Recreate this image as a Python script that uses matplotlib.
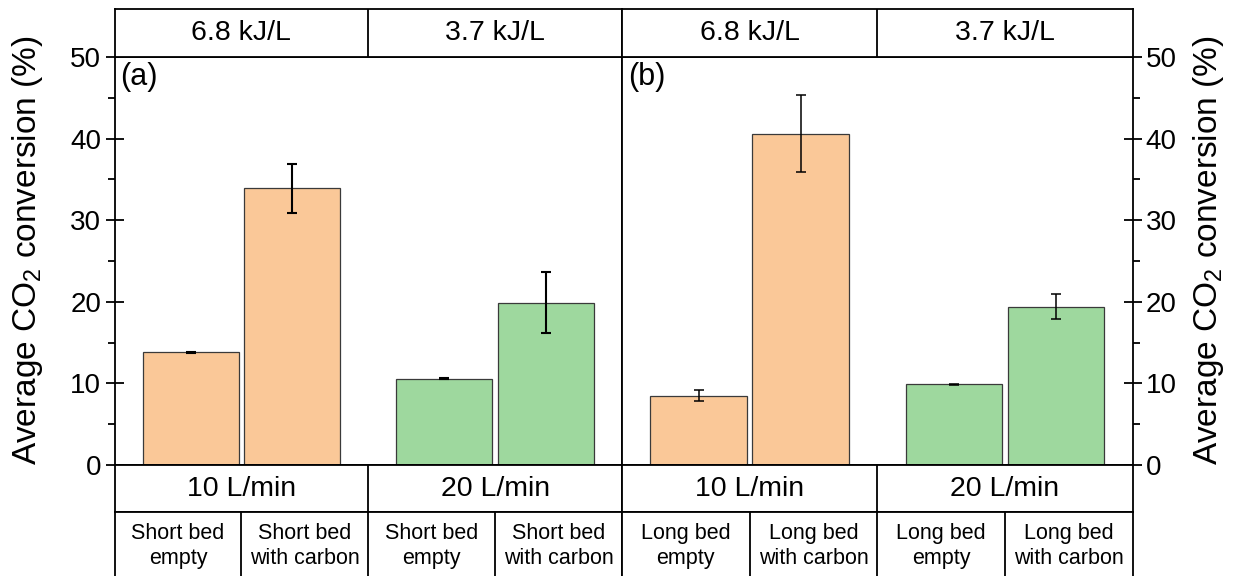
import numpy as np
import matplotlib
matplotlib.use("Agg")
import matplotlib.pyplot as plt

plt.rcParams['font.family'] = ['Liberation Sans', 'DejaVu Sans']
plt.rcParams['mathtext.fontset'] = 'custom'
plt.rcParams['mathtext.rm'] = 'Liberation Sans'
plt.rcParams['mathtext.it'] = 'Liberation Sans:italic'

# data
energy_labels = ["6.8 kJ/L", "3.7 kJ/L"]
flow_labels = ["10 L/min", "20 L/min"]
beds_a = ["Short bed\nempty", "Short bed\nwith carbon", "Short bed\nempty", "Short bed\nwith carbon"]
beds_b = ["Long bed\nempty", "Long bed\nwith carbon", "Long bed\nempty", "Long bed\nwith carbon"]
conv_a = [13.8, 33.9, 10.6, 19.9]
err_a = [0.1, 3.0, 0.1, 3.7]
conv_b = [8.5, 40.6, 9.9, 19.4]
err_b = [0.7, 4.7, 0.05, 1.5]

ORANGE = '#FAC898'
GREEN = '#9ED89E'
bar_colors = [ORANGE, ORANGE, GREEN, GREEN]
LW = 1.3

W, H = 1237, 576
fig = plt.figure(figsize=(W / 100, H / 100), dpi=100)


def px_axes(x0, y0, x1, y1):
    # pixel box (top-left origin) -> figure axes
    return fig.add_axes([x0 / W, 1 - y1 / H, (x1 - x0) / W, (y1 - y0) / H])


def box_axes(x0, y0, x1, y1, dividers, texts, xs, fontsize, ytext=0.5,
             hide_bottom=False):
    a = px_axes(x0, y0, x1, y1)
    a.set_xlim(0, 4)
    a.set_ylim(0, 1)
    a.set_xticks([])
    a.set_yticks([])
    for s in a.spines.values():
        s.set_linewidth(LW)
    if hide_bottom:
        a.spines['bottom'].set_visible(False)
    for d in dividers:
        a.axvline(d, color='black', lw=LW)
    for x, t in zip(xs, texts):
        a.text(x, ytext, t, ha='center', va='center', fontsize=fontsize,
               linespacing=1.3)
    return a


panels = [
    (114.5, 622, conv_a, err_a, beds_a, '(a)', 1.5),
    (622, 1132.5, conv_b, err_b, beds_b, '(b)', 1.1),
]
xpos = [0.6, 1.4, 2.6, 3.4]
top, bottom = 57, 465

for i, (x0, x1, conv, err, beds, tag, elw) in enumerate(panels):
    ax = px_axes(x0, top, x1, bottom)
    ax.bar(xpos, conv, width=0.755, color=bar_colors, edgecolor='#3a3a3a',
           linewidth=0.9, zorder=2)
    ax.errorbar(xpos, conv, yerr=err, fmt='none', ecolor='black',
                elinewidth=elw, capsize=3.3, capthick=elw, zorder=3)
    ax.set_xlim(0, 4)
    ax.set_ylim(0, 50)
    ax.set_xticks([2])
    ax.set_xticklabels([])
    ax.tick_params(axis='x', direction='out', length=5, width=LW)
    ax.set_yticks(np.arange(0, 51, 10))
    ax.set_yticks(np.arange(5, 50, 10), minor=True)
    for s in ax.spines.values():
        s.set_linewidth(LW)
    ax.text(0.012, 0.988, tag, transform=ax.transAxes, ha='left', va='top',
            fontsize=22)
    if i == 0:
        ax.tick_params(axis='y', which='major', direction='inout', length=13,
                       width=LW, labelsize=20, pad=3, right=False)
        ax.tick_params(axis='y', which='minor', direction='out', length=5,
                       width=LW, right=False)
    else:
        ax.yaxis.tick_right()
        ax.tick_params(axis='y', which='major', direction='inout', length=13,
                       width=LW, labelsize=20, pad=3, left=False)
        ax.tick_params(axis='y', which='minor', direction='out', length=5,
                       width=LW, left=False)

    # header and footer tables
    box_axes(x0, 9, x1, top, [2], energy_labels, [1, 3], 20.5)
    box_axes(x0, bottom, x1, 512, [2], flow_labels, [1, 3], 20.5)
    box_axes(x0, 512, x1, 576, [1, 2, 3], beds, [0.5, 1.5, 2.5, 3.5], 15.5,
             ytext=0.47, hide_bottom=True)

ylab = 'Average CO$_2$ conversion (%)'
fig.text(28 / W, 1 - 250 / H, ylab, rotation=90, ha='center', va='center',
         fontsize=24)
fig.text(1208 / W, 1 - 250 / H, ylab, rotation=90, ha='center', va='center',
         fontsize=24)

fig.savefig('out.png', dpi=100)
